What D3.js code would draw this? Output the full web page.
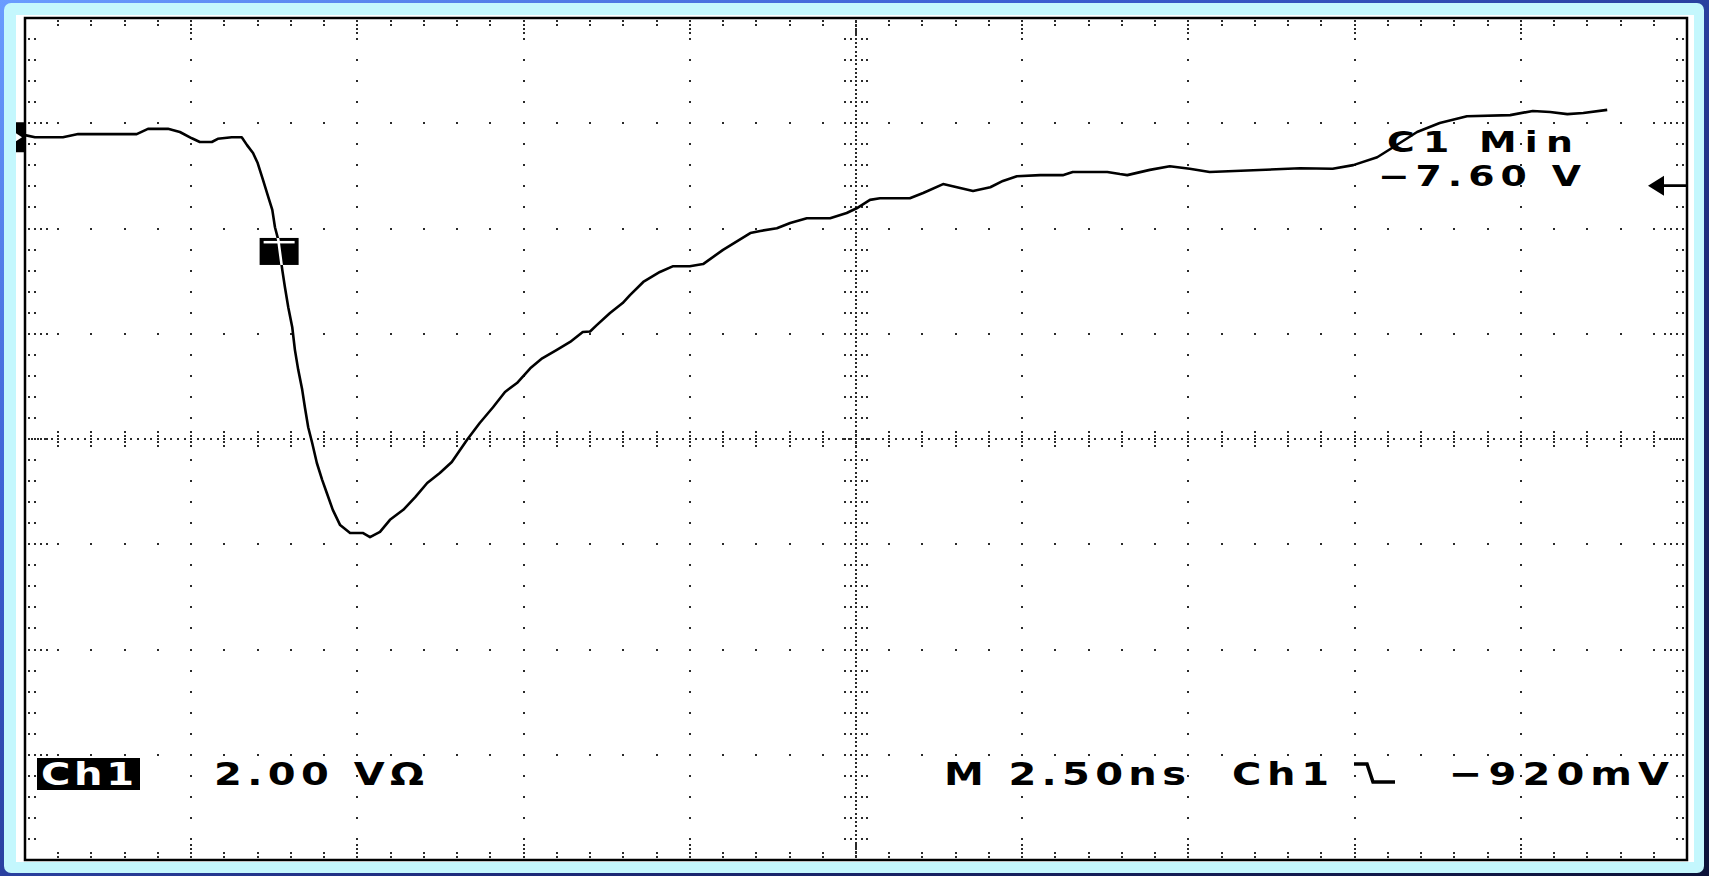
<!DOCTYPE html>
<html>
<head>
<meta charset="utf-8">
<title>Ch1 waveform</title>
<script src="https://cdn.jsdelivr.net/npm/d3@7"></script>
<style>
  html, body { margin: 0; padding: 0; overflow: hidden; background: #0e1440; }
  svg { display: block; }
  text { font-family: "DejaVu Sans", sans-serif; font-weight: bold; }
</style>
</head>
<body>
<div id="scope"></div>
<script>
  // trace: time in ns from the left edge, volts
  var timeNs = [0.00, 0.15, 0.57, 0.80, 1.68, 1.85, 2.15, 2.33, 2.51, 2.63,
                2.81, 2.90, 3.11, 3.26, 3.34, 3.43, 3.50, 3.58, 3.66, 3.72,
                3.76, 3.81, 3.87, 3.91, 3.96, 4.02, 4.06, 4.11, 4.17, 4.21,
                4.26, 4.32, 4.39, 4.47, 4.54, 4.63, 4.74, 4.89, 5.08, 5.19,
                5.34, 5.49, 5.69, 5.87, 6.05, 6.24, 6.42, 6.65, 6.84, 7.04,
                7.22, 7.40, 7.60, 7.78, 8.00, 8.20, 8.39, 8.50, 8.60, 8.80,
                8.99, 9.10, 9.30, 9.55, 9.75, 10.00, 10.20, 10.50, 10.91, 11.06,
                11.31, 11.51, 11.76, 12.11, 12.36, 12.51, 12.71, 12.86, 13.31, 13.51,
                13.81, 14.26, 14.52, 14.71, 14.92, 15.27, 15.61, 15.76, 16.28, 16.47,
                16.58, 16.92, 17.22, 17.52, 17.82, 19.18, 19.67, 19.98, 20.34, 20.58,
                20.94, 21.28, 21.69, 22.34, 22.68, 22.94, 23.20, 23.44, 23.80];
  var volts = [0.04, 0.00, 0.00, 0.06, 0.06, 0.16, 0.16, 0.10, -0.02, -0.09,
               -0.09, -0.03, 0.00, 0.00, -0.15, -0.30, -0.49, -0.81, -1.14, -1.38,
               -1.71, -1.95, -2.52, -2.85, -3.23, -3.61, -4.04, -4.42, -4.80, -5.13,
               -5.51, -5.81, -6.19, -6.51, -6.76, -7.08, -7.37, -7.52, -7.52, -7.60,
               -7.50, -7.27, -7.08, -6.84, -6.57, -6.38, -6.17, -5.75, -5.43, -5.13,
               -4.84, -4.67, -4.39, -4.20, -4.04, -3.89, -3.70, -3.69, -3.57, -3.34,
               -3.15, -3.00, -2.75, -2.56, -2.45, -2.45, -2.41, -2.14, -1.82, -1.78,
               -1.73, -1.63, -1.54, -1.54, -1.44, -1.35, -1.19, -1.16, -1.16, -1.06,
               -0.89, -1.02, -0.95, -0.83, -0.74, -0.72, -0.72, -0.66, -0.66, -0.70,
               -0.72, -0.62, -0.55, -0.60, -0.66, -0.59, -0.60, -0.53, -0.38, -0.19,
               0.10, 0.27, 0.40, 0.42, 0.50, 0.48, 0.44, 0.46, 0.52];

  var voltsPerDiv = 2.0, nsPerDiv = 2.5;
  var xDivs = 10, yDivs = 8;
  var groundDiv = 1.133;        // ground marker, divisions below the top
  var triggerTimeNs = 3.83;
  var triggerMarkV = -2.17;
  var triggerLevelV = -0.92;

  var settingLabels = ["Ch1", "2.00 V\u03A9", "M 2.50ns", "Ch1", "\u2212920mV"];
  var measureLabels = ["C1 Min", "\u22127.60 V"];

  var W = 1709, H = 876;
  var svg = d3.select("#scope").append("svg")
      .attr("width", W)
      .attr("height", H);

  var defs = svg.append("defs");
  var grad = defs.append("linearGradient")
      .attr("id", "bg")
      .attr("x1", 0).attr("y1", 0).attr("x2", 1).attr("y2", 1);
  grad.append("stop").attr("offset", 0).attr("stop-color", "#6a9cff");
  grad.append("stop").attr("offset", 0.3).attr("stop-color", "#3b5ed2");
  grad.append("stop").attr("offset", 0.65).attr("stop-color", "#1c2a7a");
  grad.append("stop").attr("offset", 1).attr("stop-color", "#0c1238");

  svg.append("rect").attr("width", W).attr("height", H).attr("fill", "url(#bg)");
  svg.append("rect")
      .attr("x", 4).attr("y", 3).attr("width", 1700).attr("height", 870)
      .attr("rx", 7).attr("fill", "#c4f7fd");
  svg.append("rect")
      .attr("x", 16).attr("y", 15).attr("width", 1678).attr("height", 847)
      .attr("fill", "#ffffff");

  // graticule
  var gx = d3.scaleLinear().domain([0, xDivs]).range([25, 1687]);
  var gy = d3.scaleLinear().domain([0, yDivs]).range([18, 860]);

  var x = d3.scaleLinear().domain([0, xDivs * nsPerDiv]).range(gx.range());
  var vTop = groundDiv * voltsPerDiv;
  var y = d3.scaleLinear().domain([vTop, vTop - yDivs * voltsPerDiv]).range(gy.range());

  var dots = [];
  function dot(px, py) { dots.push([px, py]); }

  for (var i = 1; i < xDivs; i++) {
    if (i === xDivs / 2) continue;
    for (var j = 1; j < yDivs * 5; j++) dot(gx(i), gy(j / 5));
  }
  for (var k = 1; k < yDivs; k++) {
    if (k === yDivs / 2) continue;
    for (var j = 1; j < xDivs * 5; j++) dot(gx(j / 5), gy(k));
  }

  var cx = gx(xDivs / 2), cy = gy(yDivs / 2);
  for (var j = 1; j < xDivs * 25; j++) dot(gx(j / 25), cy);
  for (var j = 1; j < yDivs * 25; j++) dot(cx, gy(j / 25));
  for (var j = 1; j < xDivs * 5; j++) {
    [-6.8, -3.4, 3.4, 6.8].forEach(function(o) { dot(gx(j / 5), cy + o); });
  }
  for (var j = 1; j < yDivs * 5; j++) {
    [-11, -5.5, 5.5, 11].forEach(function(o) { dot(cx + o, gy(j / 5)); });
  }

  // edge ticks
  for (var j = 1; j < xDivs * 5; j++) {
    var offs = j % 5 === 0 ? [3, 7, 11, 15] : [3, 7];
    offs.forEach(function(o) {
      dot(gx(j / 5), gy(0) + o);
      dot(gx(j / 5), gy(yDivs) - o);
    });
  }
  for (var j = 1; j < yDivs * 5; j++) {
    var offs = j % 5 === 0 ? [4, 10, 16, 22] : [4, 10];
    offs.forEach(function(o) {
      dot(gx(0) + o, gy(j / 5));
      dot(gx(xDivs) - o, gy(j / 5));
    });
  }

  svg.append("g").selectAll("rect")
      .data(dots)
      .join("rect")
      .attr("x", d => Math.round(d[0]) - 1)
      .attr("y", d => Math.round(d[1]) - 1)
      .attr("width", 2)
      .attr("height", 2)
      .attr("fill", "#2a2a2a");

  svg.append("rect")
      .attr("x", gx(0)).attr("y", gy(0))
      .attr("width", gx(xDivs) - gx(0)).attr("height", gy(yDivs) - gy(0))
      .attr("fill", "none")
      .attr("stroke", "#000")
      .attr("stroke-width", 2.5);

  // trace
  var trace = d3.zip(timeNs, volts);
  var line = d3.line()
      .x(d => x(d[0]))
      .y(d => y(d[1]));

  svg.append("path")
      .datum(trace)
      .attr("d", line)
      .attr("fill", "none")
      .attr("stroke", "#000")
      .attr("stroke-width", 2.6)
      .attr("stroke-linejoin", "round");

  // trigger position marker
  var tx = x(triggerTimeNs), ty = y(triggerMarkV);
  var box = { x: tx - 20, y: ty - 13.5, w: 39, h: 27 };
  defs.append("clipPath").attr("id", "tclip")
    .append("rect")
      .attr("x", box.x).attr("y", box.y).attr("width", box.w).attr("height", box.h);
  svg.append("rect")
      .attr("x", box.x).attr("y", box.y).attr("width", box.w).attr("height", box.h)
      .attr("fill", "#000");
  svg.append("rect")
      .attr("x", box.x + 4).attr("y", box.y + 3).attr("width", box.w - 8).attr("height", 2.5)
      .attr("fill", "#fff");
  svg.append("path")
      .datum(trace)
      .attr("d", line)
      .attr("clip-path", "url(#tclip)")
      .attr("fill", "none")
      .attr("stroke", "#fff")
      .attr("stroke-width", 2.6);

  // ground marker on the left
  var g0 = y(0);
  svg.append("path")
      .attr("d", "M16," + (g0 - 15) + "H25V" + (g0 + 15) + "H16V" + (g0 + 4) +
                 "L22," + g0 + "L16," + (g0 - 4) + "Z")
      .attr("fill", "#000");

  // trigger level arrow on the right
  var ya = y(triggerLevelV);
  svg.append("path")
      .attr("d", "M1648," + ya + "L1664," + (ya - 10) + "V" + (ya - 1.3) + "H1686V" +
                 (ya + 1.3) + "H1664V" + (ya + 10) + "Z")
      .attr("fill", "#000");

  // wide screen font: glyphs stretched sideways, then fitted to the measured width
  function label(parent, str, px, py, w, fill, size, sx) {
    parent.append("g")
        .attr("transform", "translate(" + px + "," + py + ") scale(" + sx + ",1)")
      .append("text")
        .attr("font-size", size)
        .attr("fill", fill)
        .attr("textLength", w / sx)
        .attr("lengthAdjust", "spacing")
        .text(str);
  }

  // measurement readout
  var meas = svg.append("g");
  label(meas, measureLabels[0], 1387, 152, 186, "#000", 28, 1.35);
  label(meas, measureLabels[1], 1378, 186, 203, "#000", 28, 1.35);

  // settings line
  var base = 785;
  svg.append("rect")
      .attr("x", 37).attr("y", 758).attr("width", 103).attr("height", 32)
      .attr("fill", "#000");
  var sets = svg.append("g");
  var spots = [
    { x: 41, w: 93, fill: "#fff" },
    { x: 214, w: 210, fill: "#000" },
    { x: 944, w: 242, fill: "#000" },
    { x: 1232, w: 97, fill: "#000" },
    { x: 1449, w: 220, fill: "#000" }
  ];
  settingLabels.forEach(function(s, i) {
    label(sets, s, spots[i].x, base, spots[i].w, spots[i].fill, 32, 1.25);
  });

  // falling-edge slope symbol
  svg.append("path")
      .attr("d", "M1354,764H1367L1373,782H1395")
      .attr("fill", "none")
      .attr("stroke", "#000")
      .attr("stroke-width", 3.5);
</script>
</body>
</html>
